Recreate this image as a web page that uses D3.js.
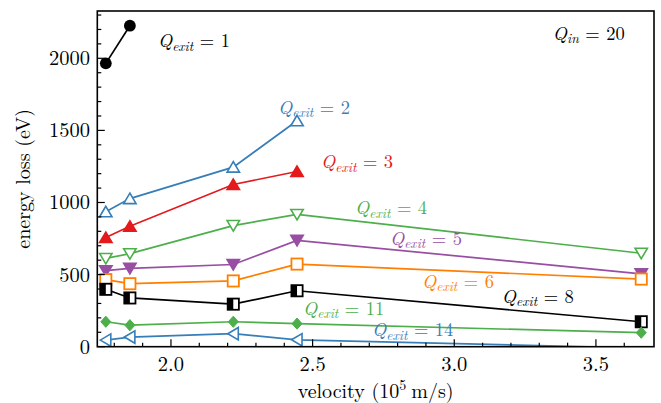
<!DOCTYPE html>
<html><head><meta charset="utf-8">
<script src="https://cdn.jsdelivr.net/npm/d3@7"></script>
<style>html,body{margin:0;padding:0;background:#fff;}svg{display:block;}</style>
</head><body>
<svg id="chart" width="661" height="403"></svg>
<script>
// ---- data ----
const velocities = [1.77, 1.855, 2.22, 2.445, 3.66];
const qExit1  = [1965, 2226];
const qExit2  = [936, 1027, 1245, 1567];
const qExit3  = [757, 835, 1125, 1215];
const qExit4  = [612, 645, 840, 917, 648];
const qExit5  = [527, 543, 570, 737, 505];
const qExit6  = [465, 437, 456, 573, 469];
const qExit8  = [398, 338, 295, 388, 173];
const qExit11 = [173, 149, 173, 160, 97];
const qExit14 = [46, 67, 90, 48, -10];
const xTicks = [2.0, 2.5, 3.0, 3.5];
const yTicks = [0, 500, 1000, 1500, 2000];
const qIn = 20;

// ---- layout ----
const W = 661, H = 403;
const L = 97.3, R = 654, T = 11, B = 346.7;
const x = d3.scaleLinear().domain([1.740, 3.705]).range([L, R]);
const y = d3.scaleLinear().domain([0, 2328]).range([B, T]);
const svg = d3.select('#chart');
const FONT = "'Latin Modern Roman', 'Liberation Serif', serif";

const series = [
  {q: 1,  vals: qExit1,  color: '#000000', marker: 'circle',  lab: [1.954, 2078]},
  {q: 2,  vals: qExit2,  color: '#377eb8', marker: 'triUpOpen', lab: [2.378, 1614]},
  {q: 3,  vals: qExit3,  color: '#e41a1c', marker: 'triUpFill', lab: [2.530, 1239]},
  {q: 4,  vals: qExit4,  color: '#4daf4a', marker: 'triDownOpen', lab: [2.650, 920]},
  {q: 5,  vals: qExit5,  color: '#984ea3', marker: 'triDownFill', lab: [2.773, 706]},
  {q: 6,  vals: qExit6,  color: '#ff7f00', marker: 'squareOpen', lab: [2.886, 408]},
  {q: 8,  vals: qExit8,  color: '#000000', marker: 'squareHalf', lab: [3.168, 304]},
  {q: 11, vals: qExit11, color: '#4daf4a', marker: 'diamond', lab: [2.466, 222]},
  {q: 14, vals: qExit14, color: '#377eb8', marker: 'triLeftOpen', lab: [2.710, 74]},
];

svg.append('defs').append('clipPath').attr('id', 'clip')
  .append('rect').attr('x', L).attr('y', T).attr('width', R - L).attr('height', B - T);

const plot = svg.append('g').attr('clip-path', 'url(#clip)');

const line = d3.line().x(d => x(d[0])).y(d => y(d[1]));

function drawMarker(g, cx, cy, type, color) {
  const sw = 1.6;
  if (type === 'circle') {
    g.append('circle').attr('cx', cx).attr('cy', cy).attr('r', 5.9).attr('fill', color);
  } else if (type === 'triUpOpen' || type === 'triUpFill') {
    const p = `M${cx},${cy - 5.5}L${cx - 6.2},${cy + 5}L${cx + 6.2},${cy + 5}Z`;
    g.append('path').attr('d', p).attr('fill', type === 'triUpFill' ? color : '#fff')
      .attr('stroke', color).attr('stroke-width', sw);
  } else if (type === 'triDownOpen' || type === 'triDownFill') {
    const p = `M${cx},${cy + 5.5}L${cx - 6.2},${cy - 5}L${cx + 6.2},${cy - 5}Z`;
    g.append('path').attr('d', p).attr('fill', type === 'triDownFill' ? color : '#fff')
      .attr('stroke', color).attr('stroke-width', sw);
  } else if (type === 'triLeftOpen') {
    const p = `M${cx - 5.5},${cy}L${cx + 5},${cy - 6.2}L${cx + 5},${cy + 6.2}Z`;
    g.append('path').attr('d', p).attr('fill', '#fff')
      .attr('stroke', color).attr('stroke-width', sw);
  } else if (type === 'squareOpen') {
    g.append('rect').attr('x', cx - 5.6).attr('y', cy - 5.6).attr('width', 11.2).attr('height', 11.2)
      .attr('fill', '#fff').attr('stroke', color).attr('stroke-width', 1.8);
  } else if (type === 'squareHalf') {
    g.append('rect').attr('x', cx - 5.6).attr('y', cy - 5.6).attr('width', 11.2).attr('height', 11.2)
      .attr('fill', '#fff');
    g.append('rect').attr('x', cx - 5.6).attr('y', cy - 5.6).attr('width', 5.6).attr('height', 11.2)
      .attr('fill', color);
    g.append('rect').attr('x', cx - 5.6).attr('y', cy - 5.6).attr('width', 11.2).attr('height', 11.2)
      .attr('fill', 'none').attr('stroke', color).attr('stroke-width', 1.8);
  } else if (type === 'diamond') {
    const p = `M${cx},${cy - 5.6}L${cx + 5},${cy}L${cx},${cy + 5.6}L${cx - 5},${cy}Z`;
    g.append('path').attr('d', p).attr('fill', color).attr('stroke', color).attr('stroke-width', 1);
  }
}

const [yMin, yMax] = y.domain();
series.forEach(sr => {
  const pts = sr.vals.map((v, i) => [velocities[i], v]);
  const g = plot.append('g');
  g.append('path').attr('d', line(pts)).attr('fill', 'none')
    .attr('stroke', sr.color).attr('stroke-width', 1.7);
  // markers whose centre falls outside the axes are culled
  pts.filter(p => p[1] >= yMin && p[1] <= yMax)
     .forEach(p => drawMarker(g, x(p[0]), y(p[1]), sr.marker, sr.color));
});

// ---- annotation labels ----
function mathLabel(px, py, sub, val, color) {
  const t = svg.append('text').attr('x', px).attr('y', py)
    .style('font-family', FONT).style('font-size', '18.5px').attr('fill', color);
  t.append('tspan').style('font-style', 'italic').text('Q');
  t.append('tspan').style('font-style', 'italic').style('font-size', '13.5px').attr('dy', 3.5).text(sub);
  t.append('tspan').attr('dy', -3.5).attr('dx', 6.5).text('=');
  t.append('tspan').attr('dx', 6.5).text(val);
  return t;
}
series.forEach(sr => mathLabel(x(sr.lab[0]), y(sr.lab[1]), 'exit', sr.q, sr.color));
mathLabel(x(3.348), y(2127), 'in', qIn, '#000');

// ---- axes frame ----
svg.append('rect').attr('x', L).attr('y', T).attr('width', R - L).attr('height', B - T)
  .attr('fill', 'none').attr('stroke', '#000').attr('stroke-width', 1.6);

// x ticks
const xMinor = d3.range(18, 37).map(d => d / 10).filter(v => !xTicks.some(t => Math.abs(t - v) < 1e-9));
const gx = svg.append('g');
xMinor.forEach(v => gx.append('line').attr('x1', x(v)).attr('x2', x(v)).attr('y1', B).attr('y2', B - 4)
  .attr('stroke', '#000').attr('stroke-width', 1.2));
xTicks.forEach(v => {
  gx.append('line').attr('x1', x(v)).attr('x2', x(v)).attr('y1', B).attr('y2', B - 7.5)
    .attr('stroke', '#000').attr('stroke-width', 1.2);
  gx.append('text').attr('x', x(v)).attr('y', 371).attr('text-anchor', 'middle')
    .style('font-family', FONT).style('font-size', '20.5px').text(d3.format('.1f')(v));
});

// y ticks
const yMinor = d3.range(100, 2400, 100).filter(v => v % 500 !== 0 && v < 2328);
const gy = svg.append('g');
yMinor.forEach(v => gy.append('line').attr('x1', L).attr('x2', L + 4).attr('y1', y(v)).attr('y2', y(v))
  .attr('stroke', '#000').attr('stroke-width', 1.2));
yTicks.forEach(v => {
  gy.append('line').attr('x1', L).attr('x2', L + 7.5).attr('y1', y(v)).attr('y2', y(v))
    .attr('stroke', '#000').attr('stroke-width', 1.2);
  gy.append('text').attr('x', 90).attr('y', y(v)).attr('dy', '0.34em').attr('text-anchor', 'end')
    .style('font-family', FONT).style('font-size', '20.5px').text(v);
});

// axis labels
const xl = svg.append('text').attr('x', (L + R) / 2).attr('y', 398).attr('text-anchor', 'middle')
  .style('font-family', FONT).style('font-size', '20px');
xl.append('tspan').text('velocity (10');
xl.append('tspan').style('font-size', '14px').attr('dy', -8).text('5');
xl.append('tspan').attr('dy', 8).attr('dx', 5).text('m/s)');

svg.append('text').attr('transform', `translate(30,${(T + B) / 2}) rotate(-90)`)
  .attr('text-anchor', 'middle').style('font-family', FONT).style('font-size', '20px')
  .text('energy loss (eV)');
</script>
</body></html>
